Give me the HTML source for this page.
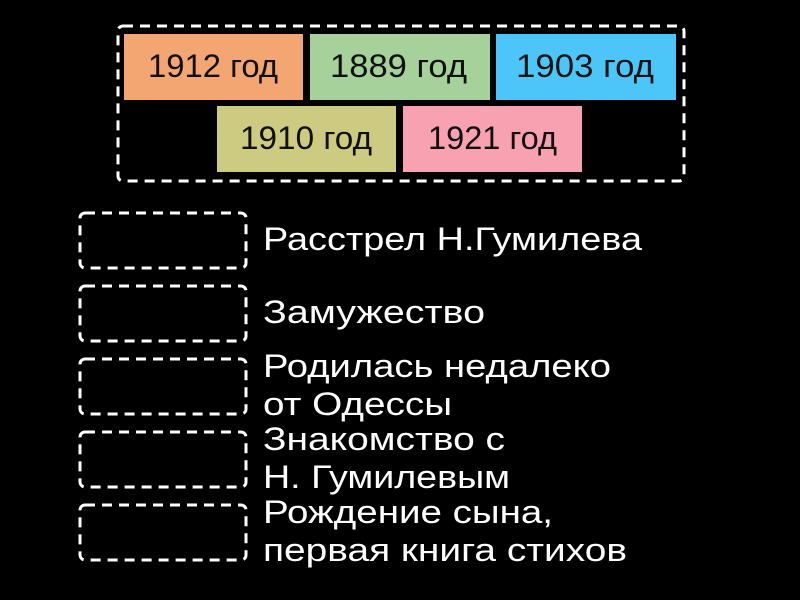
<!DOCTYPE html>
<html><head><meta charset="utf-8"><style>
body{margin:0;background:#000;width:800px;height:600px;overflow:hidden}
svg{display:block}
text{font-family:"Liberation Sans","DejaVu Sans",sans-serif}
</style></head><body>
<svg width="800" height="600" viewBox="0 0 800 600">
<rect width="800" height="600" fill="#000"/>
<g fill="none" stroke="#fff" stroke-width="3" stroke-dasharray="10 7">
<rect x="118" y="26" width="566" height="155" rx="5"/>
<rect x="80" y="213" width="166" height="55" rx="5"/>
<rect x="80" y="286" width="166" height="55" rx="5"/>
<rect x="80" y="359" width="166" height="55" rx="5"/>
<rect x="80" y="432" width="166" height="55" rx="5"/>
<rect x="80" y="505" width="166" height="55" rx="5"/>
</g>
<rect x="124" y="34" width="179" height="66" fill="#f4a672"/>
<rect x="310" y="34" width="180" height="66" fill="#a6d19a"/>
<rect x="496" y="34" width="180" height="66" fill="#4cc6f8"/>
<rect x="217" y="106" width="179" height="66" fill="#cdca82"/>
<rect x="403" y="106" width="179" height="66" fill="#f8a2b1"/>
<g font-size="32" fill="#111" lengthAdjust="spacingAndGlyphs">
<text x="148" y="77" textLength="130" lengthAdjust="spacingAndGlyphs">1912 год</text>
<text x="330" y="77" textLength="137" lengthAdjust="spacingAndGlyphs">1889 год</text>
<text x="516" y="77" textLength="138" lengthAdjust="spacingAndGlyphs">1903 год</text>
<text x="240" y="149" textLength="132" lengthAdjust="spacingAndGlyphs">1910 год</text>
<text x="428" y="149" textLength="129" lengthAdjust="spacingAndGlyphs">1921 год</text>
</g>
<g font-size="32" fill="#fff">
<text x="263" y="250" textLength="379" lengthAdjust="spacingAndGlyphs">Расстрел Н.Гумилева</text>
<text x="263" y="323" textLength="222" lengthAdjust="spacingAndGlyphs">Замужество</text>
<text x="263" y="377" textLength="348" lengthAdjust="spacingAndGlyphs">Родилась недалеко</text>
<text x="263" y="415" textLength="189" lengthAdjust="spacingAndGlyphs">от Одессы</text>
<text x="263" y="450" textLength="242" lengthAdjust="spacingAndGlyphs">Знакомство с</text>
<text x="263" y="488" textLength="247" lengthAdjust="spacingAndGlyphs">Н. Гумилевым</text>
<text x="263" y="523" textLength="290" lengthAdjust="spacingAndGlyphs">Рождение сына,</text>
<text x="263" y="561" textLength="364" lengthAdjust="spacingAndGlyphs">первая книга стихов</text>
</g>
</svg>
</body></html>
